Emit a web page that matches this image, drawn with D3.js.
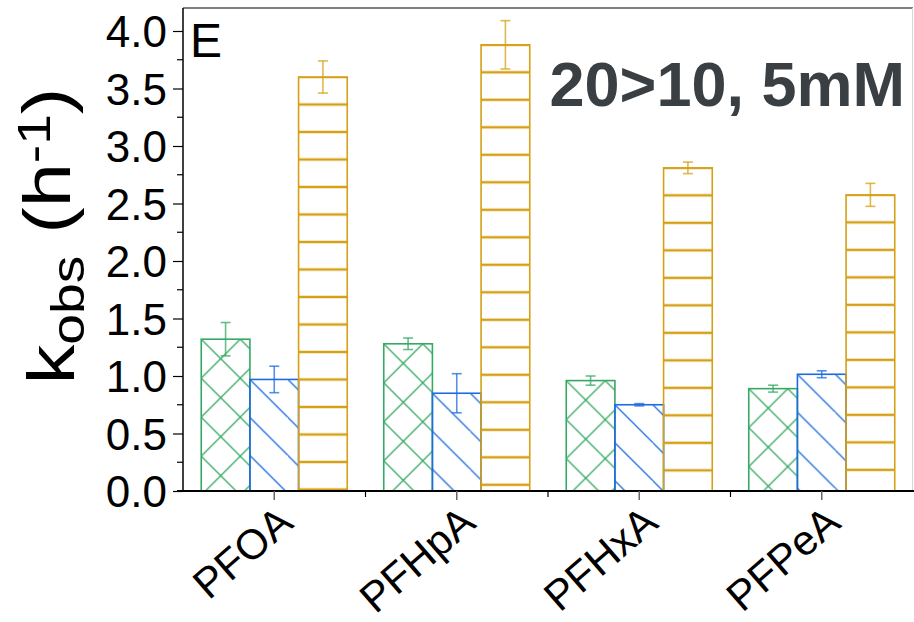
<!DOCTYPE html>
<html>
<head>
<meta charset="utf-8">
<script src="https://cdn.jsdelivr.net/npm/d3@7"></script>
<style>
  body { margin: 0; background: #fff; }
  svg { display: block; font-family: 'Liberation Sans', Arial, sans-serif; }
</style>
</head>
<body>
<div id="chart"></div>
<script>
const categories = ['PFOA', 'PFHpA', 'PFHxA', 'PFPeA'];
const seriesNames = ['A', 'B', 'C'];
const valuesA = [1.32, 1.28, 0.96, 0.89];
const errorsA = [0.145, 0.05, 0.04, 0.03];
const valuesB = [0.97, 0.85, 0.75, 1.015];
const errorsB = [0.115, 0.17, 0.01, 0.03];
const valuesC = [3.60, 3.88, 2.81, 2.575];
const errorsC = [0.14, 0.21, 0.05, 0.10];
const yTicks = [0, 0.5, 1, 1.5, 2, 2.5, 3, 3.5, 4];

const colors = ['#35a863', '#1c6be0', '#d5a015'];

const width = 914, height = 622;
const margin = {top: 8, right: 1, bottom: 131, left: 183};

const svg = d3.select('#chart').append('svg')
    .attr('width', width)
    .attr('height', height);

const x = d3.scaleBand()
    .domain(categories)
    .range([margin.left, width - margin.right])
    .padding(0);

const xs = d3.scaleBand()
    .domain(seriesNames)
    .range([x.bandwidth() * 0.1, x.bandwidth() * 0.9])
    .padding(0);

const y = d3.scaleLinear()
    .domain([0, 4.2])
    .range([height - margin.bottom, margin.top]);

const bars = [];
[[valuesA, errorsA], [valuesB, errorsB], [valuesC, errorsC]].forEach((s, j) => {
    categories.forEach((c, i) => {
        bars.push({cat: c, series: seriesNames[j], si: j, value: s[0][i], err: s[1][i], id: `p${i}${j}`});
    });
});

// hatch patterns, anchored at each bar's top-left corner
const defs = svg.append('defs');
bars.forEach(d => {
    const bx = x(d.cat) + xs(d.series);
    const by = y(d.value);
    const col = colors[d.si];
    const p = defs.append('pattern')
        .attr('id', d.id)
        .attr('patternUnits', 'userSpaceOnUse')
        .attr('x', bx)
        .attr('y', by);
    if (d.si === 0) {
        const t = 39;
        p.attr('width', t).attr('height', t);
        p.append('path').attr('d', `M0,0L${t},${t}M0,${t}L${t},0`)
            .attr('stroke', col).attr('stroke-width', 1.3).attr('fill', 'none');
    } else if (d.si === 1) {
        const t = 38;
        p.attr('width', t).attr('height', t);
        p.append('path').attr('d', `M-2,-2L${t + 2},${t + 2}M${-t - 2},-2L2,${t + 2}`)
            .attr('stroke', col).attr('stroke-width', 1.3).attr('fill', 'none');
    } else {
        const t = 27.5;
        p.attr('width', 200).attr('height', t);
        p.append('path').attr('d', `M0,0H200M0,${t}H200`)
            .attr('stroke', col).attr('stroke-width', 2.4).attr('fill', 'none');
    }
});

const g = svg.append('g');

g.selectAll('.bar')
    .data(bars)
    .enter()
    .append('rect')
    .attr('class', 'bar')
    .attr('x', d => x(d.cat) + xs(d.series))
    .attr('y', d => y(d.value))
    .attr('width', xs.bandwidth())
    .attr('height', d => y(0) - y(d.value))
    .attr('fill', d => `url(#${d.id})`)
    .attr('stroke', d => colors[d.si])
    .attr('stroke-width', 1.6);

// error bars
const eb = g.selectAll('.err')
    .data(bars)
    .enter()
    .append('g')
    .attr('class', 'err')
    .attr('stroke', d => colors[d.si])
    .attr('stroke-opacity', 0.75)
    .attr('stroke-width', 1.6);

eb.append('line')
    .attr('x1', d => x(d.cat) + xs(d.series) + xs.bandwidth() / 2)
    .attr('x2', d => x(d.cat) + xs(d.series) + xs.bandwidth() / 2)
    .attr('y1', d => y(d.value - d.err))
    .attr('y2', d => y(d.value + d.err));

[1, -1].forEach(sign => {
    eb.append('line')
        .attr('x1', d => x(d.cat) + xs(d.series) + xs.bandwidth() / 2 - 5)
        .attr('x2', d => x(d.cat) + xs(d.series) + xs.bandwidth() / 2 + 5)
        .attr('y1', d => y(d.value + sign * d.err))
        .attr('y2', d => y(d.value + sign * d.err));
});

// frame
svg.append('line')
    .attr('x1', margin.left).attr('x2', width - margin.right)
    .attr('y1', margin.top).attr('y2', margin.top)
    .attr('stroke', '#808080').attr('stroke-width', 2);
svg.append('line')
    .attr('x1', width - margin.right - 0.5).attr('x2', width - margin.right - 0.5)
    .attr('y1', margin.top).attr('y2', y(0))
    .attr('stroke', '#d8d8d8').attr('stroke-width', 1);

// y axis
const yAxis = svg.append('g')
    .attr('transform', `translate(${margin.left},0)`)
    .call(d3.axisLeft(y).tickValues(yTicks).tickFormat(d3.format('.1f')).tickSize(10).tickPadding(6));
yAxis.select('.domain').attr('stroke', '#000').attr('stroke-width', 1.5)
    .attr('d', `M0,${y(0)}V${margin.top}`);
yAxis.selectAll('.tick line').attr('stroke', '#000').attr('stroke-width', 1.2);
yAxis.selectAll('.tick text')
    .style('font-size', '44px')
    .attr('fill', '#000')
    .attr('dy', '0.36em');

const minor = yTicks.slice(0, -1).map(v => v + 0.25);
svg.append('g')
    .selectAll('line')
    .data(minor)
    .enter()
    .append('line')
    .attr('x1', margin.left - 6).attr('x2', margin.left)
    .attr('y1', d => y(d)).attr('y2', d => y(d))
    .attr('stroke', '#000').attr('stroke-width', 1.2);

// x axis
const xAxis = svg.append('g')
    .attr('transform', `translate(0,${y(0)})`)
    .call(d3.axisBottom(x).tickSize(9).tickFormat(''));
xAxis.select('.domain').attr('stroke', '#000').attr('stroke-width', 1.8)
    .attr('d', `M${margin.left - 6},0H${width}`);
xAxis.selectAll('.tick line').attr('stroke', '#666').attr('stroke-width', 1.5);

svg.append('g')
    .selectAll('line')
    .data(categories.slice(1))
    .enter()
    .append('line')
    .attr('x1', d => x(d)).attr('x2', d => x(d))
    .attr('y1', y(0)).attr('y2', y(0) + 6)
    .attr('stroke', '#000').attr('stroke-width', 1.2);

svg.append('g')
    .selectAll('text')
    .data(categories)
    .enter()
    .append('text')
    .attr('transform', d => `translate(${x(d) + x.bandwidth() / 2 + 1},${y(0) + 12}) rotate(-41)`)
    .attr('text-anchor', 'end')
    .attr('dy', '0.72em')
    .style('font-size', '42px')
    .text(d => d);

// axis title
const title = svg.append('text')
    .attr('transform', `translate(74,236) rotate(-90) scale(1.2,1)`)
    .attr('text-anchor', 'middle')
    .style('font-size', '66px');
title.append('tspan').text('k');
title.append('tspan').attr('dy', '0.22em').style('font-size', '46px').text('obs');
title.append('tspan').attr('dy', '-0.22em').text(' (h');
title.append('tspan').attr('dy', '-0.42em').style('font-size', '46px').text('-1');
title.append('tspan').attr('dy', '0.29em').text(')');

// panel letter and annotation
svg.append('text')
    .attr('x', 190).attr('y', 57)
    .style('font-size', '48px')
    .text('E');

svg.append('text')
    .attr('x', 905).attr('y', 106)
    .attr('text-anchor', 'end')
    .style('font-size', '63px')
    .style('font-weight', 'bold')
    .attr('fill', '#3a3f44')
    .text('20>10, 5mM');
</script>
</body>
</html>
